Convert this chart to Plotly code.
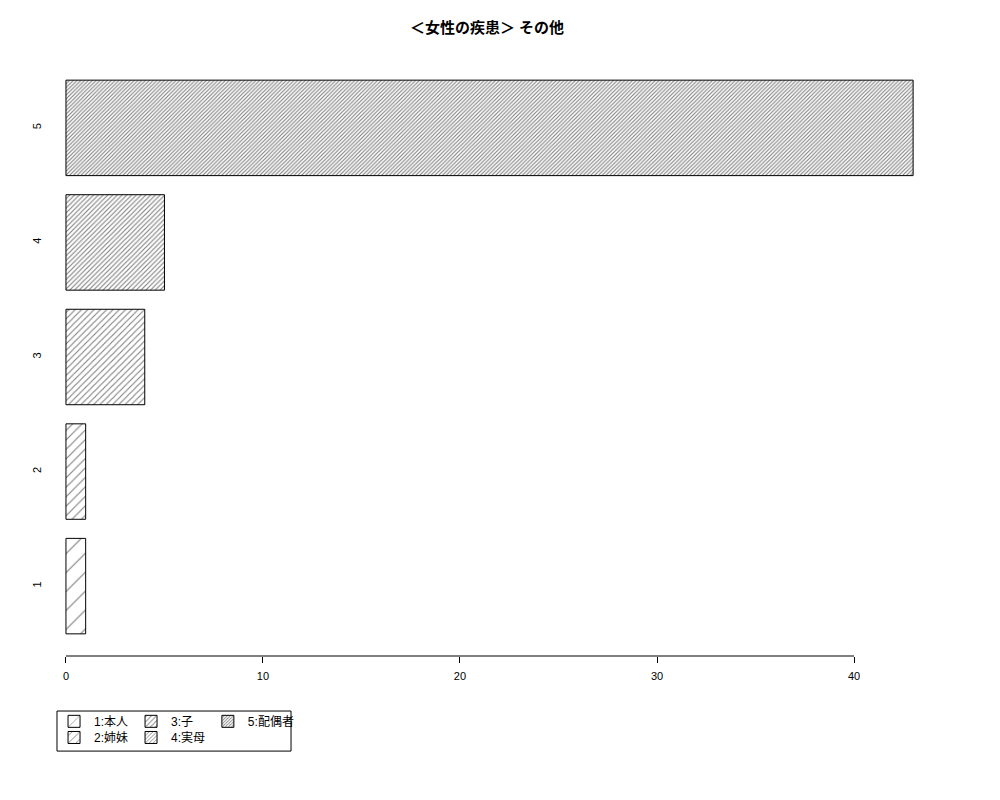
import plotly.graph_objects as go

# data
categories = ['1', '2', '3', '4', '5']
values = [1, 1, 4, 5, 43]
names = ['1:本人', '2:姉妹', '3:子', '4:実母', '5:配偶者']
x_ticks = [0, 10, 20, 30, 40]

# hatching density per bar (pattern tile size in px)
hatch_size = [13.4, 6.7, 4.45, 3.36, 2.69]

font_family = 'Liberation Sans, Noto Sans CJK JP, sans-serif'

fig = go.Figure()

# legend layout: column-major like R -> row 1: 1,3,5 ; row 2: 2,4
legend_of = ['legend', 'legend2', 'legend', 'legend2', 'legend3']

for i in range(len(categories)):
    s = hatch_size[i]
    fig.add_trace(go.Bar(
        y=[categories[i]], x=[values[i]], orientation='h',
        name=names[i],
        legend=legend_of[i],
        marker=dict(
            color='white',
            line=dict(color='black', width=1),
            pattern=dict(shape='/', size=s, solidity=min(0.6, 1.1 / s),
                         fgcolor='black', bgcolor='white', fillmode='overlay'),
        ),
    ))

# R style x axis line from 0 to 40
fig.add_shape(type='line', xref='x', yref='paper', x0=0, x1=40, y0=0, y1=0,
              line=dict(color='black', width=1))

# legend box
fig.add_shape(type='rect', xref='paper', yref='paper',
              x0=0.0078, x1=0.2687, y0=-0.092, y1=-0.159,
              line=dict(color='black', width=1), fillcolor='rgba(0,0,0,0)')

leg = dict(orientation='h', xanchor='left', yanchor='top', x=0.0045,
           bgcolor='rgba(0,0,0,0)', borderwidth=0, itemwidth=30,
           entrywidth=32, font=dict(size=12, family=font_family, color='black'),
           tracegroupgap=0)

fig.update_layout(
    width=1000, height=800,
    paper_bgcolor='white', plot_bgcolor='white',
    margin=dict(l=42, r=61, t=50, b=152, autoexpand=False),
    title=dict(text='<b>＜女性の疾患＞ その他</b>', x=0.479, xanchor='center',
               y=0.975, yanchor='middle',
               font=dict(size=15, family=font_family, color='black')),
    barmode='overlay', bargap=0.1667,
    showlegend=True,
    legend=dict(leg, y=-0.085),
    legend2=dict(leg, y=-0.112),
    legend3=dict(leg, y=-0.085, x=0.176, entrywidth=None),
    font=dict(family=font_family, color='black'),
)

fig.update_xaxes(range=[-0.81, 44.72], tickvals=x_ticks, ticks='outside', ticklen=6,
                 tickcolor='black', showline=False, showgrid=False, zeroline=False,
                 automargin=False, ticklabelstandoff=4,
                 tickfont=dict(size=11, family=font_family))
fig.update_yaxes(range=[-0.61, 4.61], type='category', categoryorder='array',
                 categoryarray=categories, showgrid=False, zeroline=False, showline=False,
                 anchor='free', position=0,
                 ticks='', tickangle=-90, ticklabelstandoff=7, automargin=False,
                 tickfont=dict(size=11, family=font_family))

fig.write_html('out.html')
